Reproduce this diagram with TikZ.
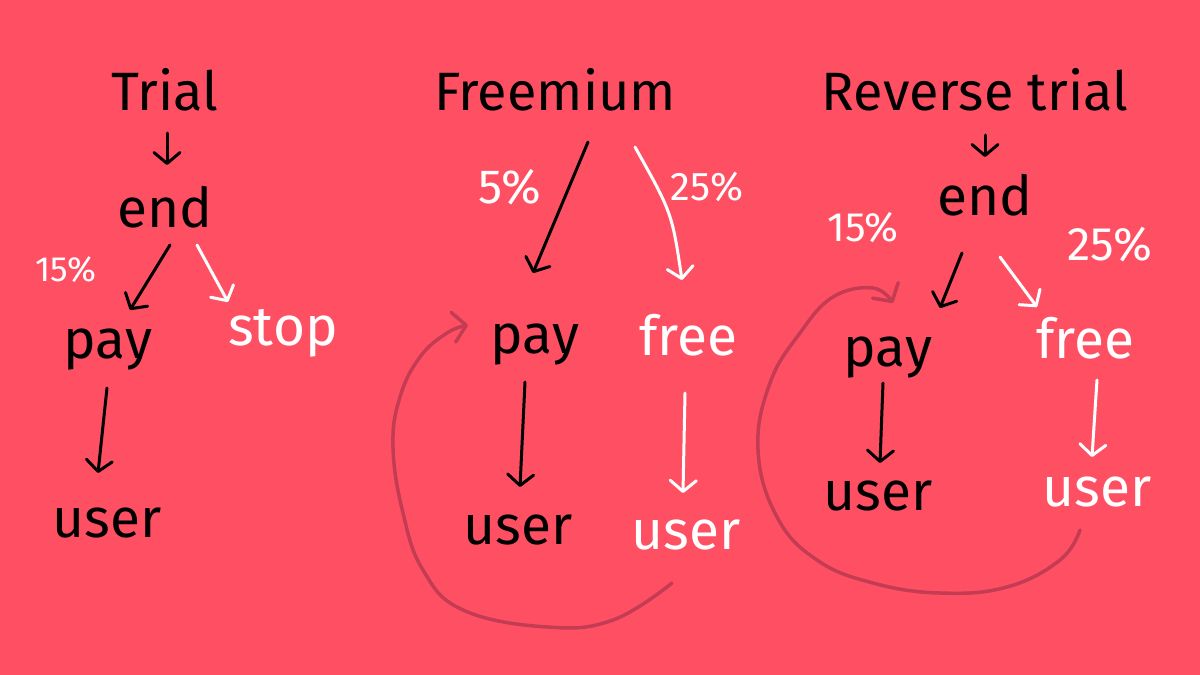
\documentclass[tikz,border=0pt]{standalone}
\usepackage{fontspec}
\setmainfont{Fira Sans}
\usetikzlibrary{arrows.meta,calc}
\definecolor{bg}{RGB}{255,80,99}
\definecolor{loopc}{RGB}{196,60,84}
\tikzset{
  word/.style={inner sep=0pt, font=\fontsize{55}{60}\selectfont},
  head/.style={inner sep=0pt, font=\fontsize{54}{60}\selectfont},
  pct/.style={inner sep=0pt, text=white, font=\fontsize{#1}{#1}\selectfont},
  pct/.default=36,
  wht/.style={text=white},
  arr/.style={line width=3pt, line cap=round, line join=round,
    -{Straight Barb[length=11pt,width=26pt,round]}},
  arrb/.style={arr, draw=black},
  arrw/.style={arr, draw=white},
  loopline/.style={draw=loopc, line width=3.5pt, line cap=round, line join=round,
    -{Straight Barb[length=13pt,width=30pt,round]}},
}
\begin{document}
\begin{tikzpicture}[x=1pt,y=-1pt]
\fill[bg] (0,0) rectangle (1200,675);
\useasboundingbox (0,0) rectangle (1200,675);
% ---- Trial
\node[head] (t1) at (165,90) {Trial};
\node[word] (e1) at (165,207) {end};
\node[pct=35] (pc1) at (66,270) {15\%};
\node[word] (p1) at (108,350) {pay};
\node[word,wht] (s1) at (283,333) {stop};
\node[word] (u1) at (107,523) {user};
\draw[arrb] ($(t1)+(2,43)$) -- ($(e1)+(2,-42)$);
\draw[arrb] ($(e1)+(5,38)$) -- ($(p1)+(22,-40)$);
\draw[arrw] ($(e1)+(32,38)$) -- ($(s1)+(-55,-31)$);
\draw[arrb] ($(p1)+(-1,38)$) -- ($(u1)+(-9,-50)$);
% ---- Freemium
\node[head] (f2) at (555,90) {Freemium};
\node[pct=48] (pc2) at (510,187) {5\%};
\node[pct=40] (pc3) at (707,187) {25\%};
\node[word] (p2) at (535,345) {pay};
\node[word,wht] (fr2) at (688,335) {free};
\node[word] (u2) at (518,530) {user};
\node[word,wht] (uw2) at (686,535) {user};
\draw[arrb] ($(f2)+(33,52)$) -- ($(p2)+(-2,-72)$);
\draw[arrw] ($(f2)+(80,57)$) .. controls ($(f2)+(117,123)$) .. ($(fr2)+(-6,-55)$);
\draw[arrb] ($(p2)+(-10,37)$) -- ($(u2)+(2,-43)$);
\draw[arrw] ($(fr2)+(-3,58)$) -- ($(uw2)+(-3,-42)$);
\draw[loopline] plot[smooth, tension=0.7] coordinates {($(uw2)+(-14,48)$) (613,620) (547,627) (463,610) (423,570) (403,513) (393,447) (400,397) (420,357) (447,333) ($(p2)+(-67,-20)$)};
% ---- Reverse trial
\node[head] (r3) at (975,90) {Reverse trial};
\node[word] (e3) at (985,195) {end};
\node[pct=41] (pc4) at (863,228) {15\%};
\node[pct=47] (pc5) at (1110,245) {25\%};
\node[word] (p3) at (888,358) {pay};
\node[word,wht] (fr3) at (1085,338) {free};
\node[word] (u3) at (878,496) {user};
\node[word,wht] (uw3) at (1097,492) {user};
\draw[arrb] ($(r3)+(10,45)$) -- ($(e3)+(0,-38)$);
\draw[arrb] ($(e3)+(-23,58)$) -- ($(p3)+(52,-50)$);
\draw[arrw] ($(e3)+(15,62)$) -- ($(fr3)+(-48,-31)$);
\draw[arrb] ($(p3)+(-5,25)$) -- ($(u3)+(2,-33)$);
\draw[arrw] ($(fr3)+(12,42)$) -- ($(uw3)+(-5,-35)$);
\draw[loopline] plot[smooth, tension=0.7] coordinates {($(uw3)+(-17,38)$) (1060,560) (1007,587) (940,593) (873,583) (817,560) (777,517) (758,450) (770,383) (800,333) (833,297) (873,288) ($(p3)+(5,-55)$)};
\end{tikzpicture}
\end{document}
